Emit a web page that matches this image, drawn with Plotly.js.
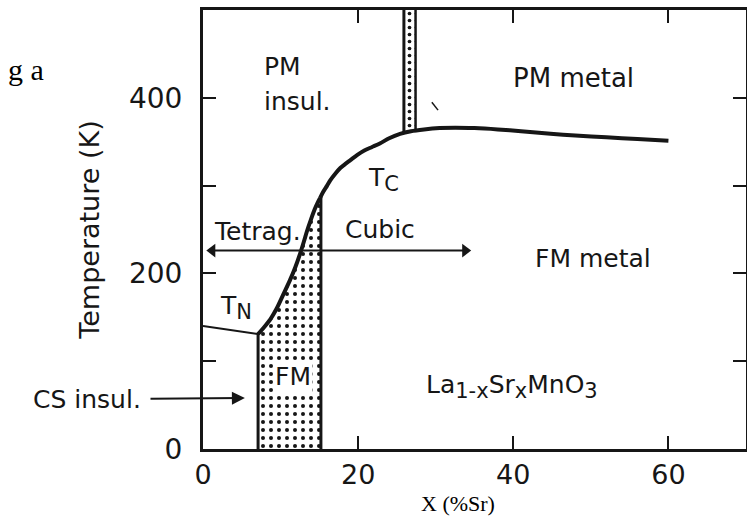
<!DOCTYPE html>
<html>
<head>
<meta charset="utf-8">
<script src="https://cdn.plot.ly/plotly-3.0.1.min.js"></script>
<style>html,body{margin:0;padding:0;background:#fff;}#chart{width:747px;height:516px;}</style>
</head>
<body>
<div id="chart"></div>
<script>
// ---- data ----
const tnX = [0, 7.1];
const tnY = [140, 131];
const tcX = [7.1, 7.9, 8.7, 9.5, 10.3, 11.2, 11.9, 12.5, 13.0, 13.4, 13.9, 14.4, 14.8, 15.1, 15.5, 16.0, 16.4, 17.0, 17.7, 18.4, 19.0, 19.9, 20.8, 21.8, 22.8, 24.0, 25.4, 26.8, 28.5, 30.5, 32.5, 35.0, 38.0, 41.0, 44.8, 48.0, 52.0, 56.0, 60.0];
const tcY = [131, 139, 148, 160, 175, 192, 207, 222, 236, 248, 261, 273, 281, 286, 293, 300, 306, 313, 320, 325, 329, 335, 340, 344, 348, 354, 359, 362, 364, 365.5, 366, 365.5, 364, 362, 359, 357, 355, 353, 351];
const tcKinkX = 15.1;
const fmLeftX = 7.1;
const fmRightX = 15.2;
const fmRightTopY = 287;
const bandX = [25.9, 27.4];
const bandBottomY = [359, 361];
const bandTopY = 500;
const structArrowY = 226;
const structArrowX = [1.2, 33.8];
const csArrowY = 58;
const csArrowHeadX = 5.4;
const strayX = [29.5, 30.3];
const strayY = [395, 386];
const xTickVals = [0, 20, 40, 60];
const yTickVals = [0, 200, 400];

// ---- build traces ----
const ink = '#161616';
const fmPolyX = [fmLeftX], fmPolyY = [0];
tcX.forEach((x, i) => { if (x <= fmRightX + 1e-9) { fmPolyX.push(x); fmPolyY.push(tcY[i]); } });
fmPolyX.push(fmRightX, fmRightX); fmPolyY.push(fmRightTopY, 0);

const lowX = [], lowY = [], highX = [], highY = [];
tcX.forEach((x, i) => {
  if (x <= tcKinkX + 1e-9) { lowX.push(x); lowY.push(tcY[i]); }
  if (x >= tcKinkX - 1e-9) { highX.push(x); highY.push(tcY[i]); }
});

const traces = [
  {x: fmPolyX, y: fmPolyY, mode: 'lines', fill: 'toself', fillcolor: 'white',
   fillpattern: {shape: '.', fgcolor: ink, bgcolor: 'white', size: 8, solidity: 0.2},
   line: {width: 0, color: 'rgba(0,0,0,0)'}, hoverinfo: 'skip', showlegend: false},
  {x: [bandX[0], bandX[0], bandX[1], bandX[1]], y: [bandBottomY[0], bandTopY, bandTopY, bandBottomY[1]],
   mode: 'lines', fill: 'toself', fillcolor: 'white',
   fillpattern: {shape: '.', fgcolor: ink, bgcolor: 'white', size: 7, solidity: 0.22},
   line: {width: 0, color: 'rgba(0,0,0,0)'}, hoverinfo: 'skip', showlegend: false},
  {x: tnX, y: tnY, mode: 'lines', line: {color: ink, width: 2}, showlegend: false},
  {x: [fmLeftX, fmLeftX], y: [0, tnY[1]], mode: 'lines', line: {color: ink, width: 3}, showlegend: false},
  {x: [fmRightX, fmRightX], y: [0, fmRightTopY], mode: 'lines', line: {color: ink, width: 3}, showlegend: false},
  {x: [bandX[0], bandX[0]], y: [bandBottomY[0], bandTopY], mode: 'lines', line: {color: ink, width: 3}, showlegend: false},
  {x: [bandX[1], bandX[1]], y: [bandBottomY[1], bandTopY], mode: 'lines', line: {color: ink, width: 2.5}, showlegend: false},
  {x: lowX, y: lowY, mode: 'lines', line: {color: ink, width: 4, shape: 'spline', smoothing: 0.8}, showlegend: false},
  {x: highX, y: highY, mode: 'lines', line: {color: ink, width: 4, shape: 'spline', smoothing: 0.8}, showlegend: false},
  {x: strayX, y: strayY, mode: 'lines', line: {color: ink, width: 1.5}, showlegend: false},
  {x: structArrowX, y: [structArrowY, structArrowY], mode: 'lines+markers', cliponaxis: false,
   line: {color: ink, width: 2},
   marker: {symbol: ['triangle-left', 'triangle-right'], size: 12, color: ink}, showlegend: false}
];

// pixel -> paper helper for text placement
const L = 203, T = 10, W = 543, H = 439;
function P(px, py) { return {x: (px - L) / W, y: (T + H - py) / H, xref: 'paper', yref: 'paper'}; }
const sans = 'DejaVu Sans';
function label(text, px, py, size, extra) {
  return Object.assign(P(px, py), {text: text, showarrow: false, xanchor: 'center', yanchor: 'middle',
    font: {family: sans, size: size, color: ink}}, extra || {});
}
const sub = s => '<sub><span style="font-size:21px">' + s + '</span></sub>';

const annotations = [
  label('PM', 262, 66, 25, {xanchor: 'left'}),
  label('insul.', 262, 101, 25, {xanchor: 'left'}),
  label('PM metal', 573, 78, 26),
  label('T' + sub('C'), 383, 180, 25),
  label('Tetrag.', 257, 232, 25),
  label('Cubic', 380, 230, 25),
  label('FM metal', 593, 258, 25),
  label('T' + sub('N'), 236, 307, 25),
  label('FM', 293, 376, 25, {bgcolor: 'white'}),
  label('La' + sub('1-x') + 'Sr' + sub('x') + 'MnO' + sub('3'), 512, 386, 25),
  // CS insul. label with its arrow pointing into the plot
  {x: csArrowHeadX, y: csArrowY, xref: 'x', yref: 'y', ax: 87 - (L + csArrowHeadX * W / 70), ay: 1,
   text: 'CS insul.', showarrow: true, arrowhead: 2, arrowsize: 1.3, arrowwidth: 2, arrowcolor: ink,
   startstandoff: 8, font: {family: sans, size: 25, color: ink}},
  Object.assign(P(458, 503), {text: 'X (%Sr)', showarrow: false, xanchor: 'center', yanchor: 'middle',
    font: {family: 'Liberation Serif', size: 22, color: '#000'}}),
  Object.assign(P(46, 70), {text: 'g a', showarrow: false, xanchor: 'right', yanchor: 'middle',
    font: {family: 'Liberation Serif', size: 30, color: '#000'}})
];

const layout = {
  width: 747, height: 516,
  margin: {l: L, r: 747 - L - W, t: T, b: 516 - T - H, pad: 0},
  paper_bgcolor: 'white', plot_bgcolor: 'white',
  showlegend: false,
  font: {family: sans, color: ink},
  xaxis: {range: [0, 70], tickvals: xTickVals, ticks: 'inside', ticklen: 13, tickwidth: 2, tickcolor: ink,
    showline: true, linewidth: 3, linecolor: ink, mirror: 'ticks', showgrid: false, zeroline: false,
    tickfont: {family: sans, size: 27, color: ink}, ticklabelstandoff: 0, fixedrange: true},
  yaxis: {range: [0, 500], tickvals: yTickVals, ticks: 'inside', ticklen: 13, tickwidth: 2, tickcolor: ink,
    minor: {dtick: 100, ticks: 'inside', ticklen: 13, tickwidth: 2, tickcolor: ink, showgrid: false},
    showline: true, linewidth: 3, linecolor: ink, mirror: 'ticks', showgrid: false, zeroline: false,
    tickfont: {family: sans, size: 28, color: ink}, ticklabelstandoff: 12,
    title: {text: 'Temperature (K)', font: {family: sans, size: 27, color: ink}, standoff: 22}, fixedrange: true},
  annotations: annotations
};

Plotly.newPlot('chart', traces, layout, {staticPlot: true, displayModeBar: false});
</script>
</body>
</html>
